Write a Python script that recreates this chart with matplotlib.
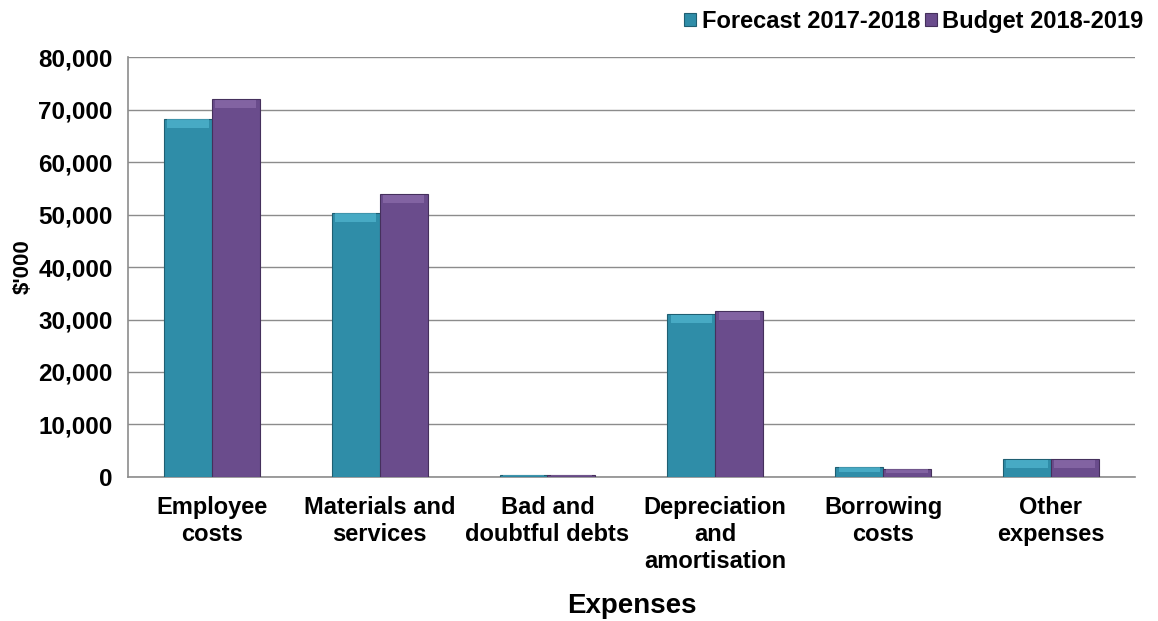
import matplotlib
matplotlib.use("Agg")
import matplotlib.pyplot as plt
import numpy as np
from matplotlib.ticker import FuncFormatter

categories = ["Employee\ncosts", "Materials and\nservices", "Bad and\ndoubtful debts",
              "Depreciation\nand\namortisation", "Borrowing\ncosts", "Other\nexpenses"]
forecast = [68200, 50300, 400, 31000, 1900, 3400]
budget = [72000, 53900, 400, 31600, 1500, 3400]
series_names = ["Forecast 2017-2018", "Budget 2018-2019"]
yticks = [0, 10000, 20000, 30000, 40000, 50000, 60000, 70000, 80000]

plt.rcParams['font.family'] = ['Liberation Sans', 'DejaVu Sans']

fig = plt.figure(figsize=(11.58, 6.21), dpi=100)
ax = fig.add_axes([0.1105, 0.232, 0.8695, 0.676])

teal = "#2F8DA8"
purple = "#6A4C8C"
x = np.arange(len(categories))
w = 0.285
b1 = ax.bar(x - w/2, forecast, w, color=teal, edgecolor="#1F5F72", linewidth=0.8,
            label=series_names[0], zorder=3)
b2 = ax.bar(x + w/2, budget, w, color=purple, edgecolor="#45305C", linewidth=0.8,
            label=series_names[1], zorder=3)

# bevel highlight on top of each bar
for bars, hl in ((b1, "#5CC3DC"), (b2, "#9677B5")):
    for r in bars:
        h = r.get_height()
        band = min(h * 0.5, 1600)
        ax.bar(r.get_x() + r.get_width()/2, band, r.get_width() * 0.86,
               bottom=h - band * 1.05, color=hl, alpha=0.55, linewidth=0, zorder=4)

ax.set_ylim(0, 80000)
ax.set_xlim(-0.5, len(categories) - 0.5)
ax.set_yticks(yticks)
ax.yaxis.set_major_formatter(FuncFormatter(lambda v, p: f"{int(v):,}"))
ax.grid(axis="y", color="#8C8C8C", linewidth=1.0, zorder=0)
ax.set_xticks(x)
ax.set_xticklabels(categories, fontsize=17, fontweight="bold", linespacing=1.22)
for lbl in ax.get_yticklabels():
    lbl.set_fontsize(17.5)
    lbl.set_fontweight("bold")
ax.tick_params(axis="x", length=0, pad=14)
ax.tick_params(axis="y", length=0, pad=11)
for s in ["top", "right"]:
    ax.spines[s].set_visible(False)
ax.spines["left"].set_color("#8C8C8C")
ax.spines["bottom"].set_color("#8C8C8C")
ax.spines["left"].set_linewidth(1.2)
ax.spines["bottom"].set_linewidth(1.2)

ax.set_ylabel("$'000", fontsize=16, fontweight="bold", labelpad=3)
ax.set_xlabel("Expenses", fontsize=20, fontweight="bold", labelpad=14)

leg = fig.legend(handles=[b1, b2], labels=series_names, loc="upper right",
                 bbox_to_anchor=(1.006, 1.018), ncol=2, frameon=False,
                 prop={"size": 17, "weight": "bold"}, handlelength=0.5,
                 handleheight=0.5, handletextpad=0.25, columnspacing=0.2)

fig.savefig("out.png", dpi=100)
